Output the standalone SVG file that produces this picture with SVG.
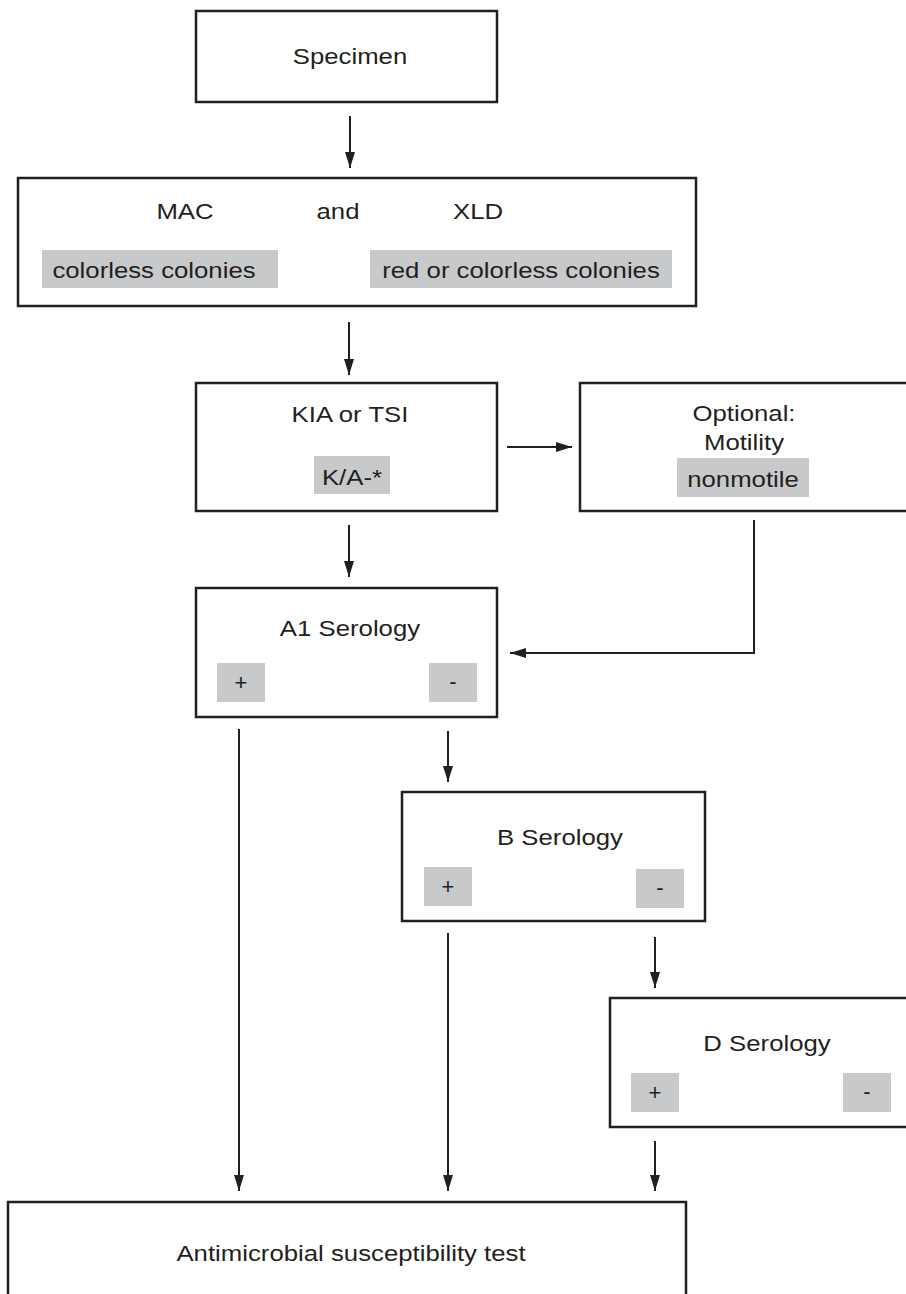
<svg xmlns="http://www.w3.org/2000/svg" width="906" height="1294" viewBox="0 0 906 1294">
<style>
.box{fill:#fff;stroke:#231f20;stroke-width:2.5}
.g{fill:#c8c9cb}
.t{font-family:"Liberation Sans",Arial,sans-serif;font-size:23px;fill:#231f20;text-anchor:middle}
.s{font-family:"Liberation Sans",Arial,sans-serif;font-size:22px;fill:#231f20;text-anchor:middle}
.c{fill:none;stroke:#231f20;stroke-width:2}
</style>
<defs>
<marker id="ah" markerUnits="userSpaceOnUse" markerWidth="16" markerHeight="10" refX="16" refY="5" orient="auto" viewBox="0 0 16 10">
<path d="M0,0 L16,5 L0,10 z" fill="#231f20"/>
</marker>
</defs>
<rect width="906" height="1294" fill="#fff"/>
<g id="connectors">
<line class="c" x1="350" y1="116" x2="350" y2="168" marker-end="url(#ah)"/>
<line class="c" x1="349" y1="322" x2="349" y2="375" marker-end="url(#ah)"/>
<line class="c" x1="507" y1="447" x2="572" y2="447" marker-end="url(#ah)"/>
<line class="c" x1="349" y1="525" x2="349" y2="577" marker-end="url(#ah)"/>
<polyline class="c" points="754,520 754,653 510,653" marker-end="url(#ah)"/>
<line class="c" x1="239" y1="729" x2="239" y2="1191" marker-end="url(#ah)"/>
<line class="c" x1="448" y1="731" x2="448" y2="782" marker-end="url(#ah)"/>
<line class="c" x1="448" y1="933" x2="448" y2="1191" marker-end="url(#ah)"/>
<line class="c" x1="655" y1="937" x2="655" y2="988" marker-end="url(#ah)"/>
<line class="c" x1="655" y1="1141" x2="655" y2="1191" marker-end="url(#ah)"/>
</g>
<g id="specimen">
<rect class="box" x="196" y="11" width="301" height="91"/>
<text class="t" transform="translate(350,64) scale(1.12,1)">Specimen</text>
</g>
<g id="media">
<rect class="box" x="18" y="178" width="678" height="128"/>
<text class="t" transform="translate(185,219) scale(1.12,1)">MAC</text>
<text class="t" transform="translate(338,219) scale(1.12,1)">and</text>
<text class="t" transform="translate(478,219) scale(1.12,1)">XLD</text>
<rect class="g" x="42" y="250" width="236" height="38"/>
<text class="t" transform="translate(154,278) scale(1.12,1)">colorless colonies</text>
<rect class="g" x="370" y="250" width="302" height="38"/>
<text class="t" transform="translate(521,278) scale(1.12,1)">red or colorless colonies</text>
</g>
<g id="kia">
<rect class="box" x="196" y="383" width="301" height="128"/>
<text class="t" transform="translate(350,422) scale(1.12,1)">KIA or TSI</text>
<rect class="g" x="314" y="456" width="76" height="38"/>
<text class="t" transform="translate(352,485) scale(1.12,1)">K/A-*</text>
</g>
<g id="optional">
<rect class="box" x="580" y="383" width="340" height="128"/>
<text class="t" transform="translate(744,421) scale(1.12,1)">Optional:</text>
<text class="t" transform="translate(744,450) scale(1.12,1)">Motility</text>
<rect class="g" x="677" y="458" width="132" height="39"/>
<text class="t" transform="translate(743,487) scale(1.12,1)">nonmotile</text>
</g>
<g id="a1">
<rect class="box" x="196" y="588" width="301" height="129"/>
<text class="t" transform="translate(350,636) scale(1.12,1)">A1 Serology</text>
<rect class="g" x="217" y="663" width="48" height="39"/>
<text class="s" x="241" y="690">+</text>
<rect class="g" x="429" y="663" width="48" height="39"/>
<text class="s" x="453" y="689">-</text>
</g>
<g id="b">
<rect class="box" x="402" y="792" width="303" height="129"/>
<text class="t" transform="translate(560,845) scale(1.12,1)">B Serology</text>
<rect class="g" x="424" y="867" width="48" height="39"/>
<text class="s" x="448" y="894">+</text>
<rect class="g" x="636" y="869" width="48" height="39"/>
<text class="s" x="660" y="895">-</text>
</g>
<g id="d">
<rect class="box" x="610" y="998" width="310" height="129"/>
<text class="t" transform="translate(767,1051) scale(1.12,1)">D Serology</text>
<rect class="g" x="631" y="1073" width="48" height="39"/>
<text class="s" x="655" y="1100">+</text>
<rect class="g" x="843" y="1073" width="48" height="39"/>
<text class="s" x="867" y="1099">-</text>
</g>
<g id="ast">
<rect class="box" x="8" y="1202" width="678" height="110"/>
<text class="t" transform="translate(351,1261) scale(1.12,1)">Antimicrobial susceptibility test</text>
</g>
</svg>
